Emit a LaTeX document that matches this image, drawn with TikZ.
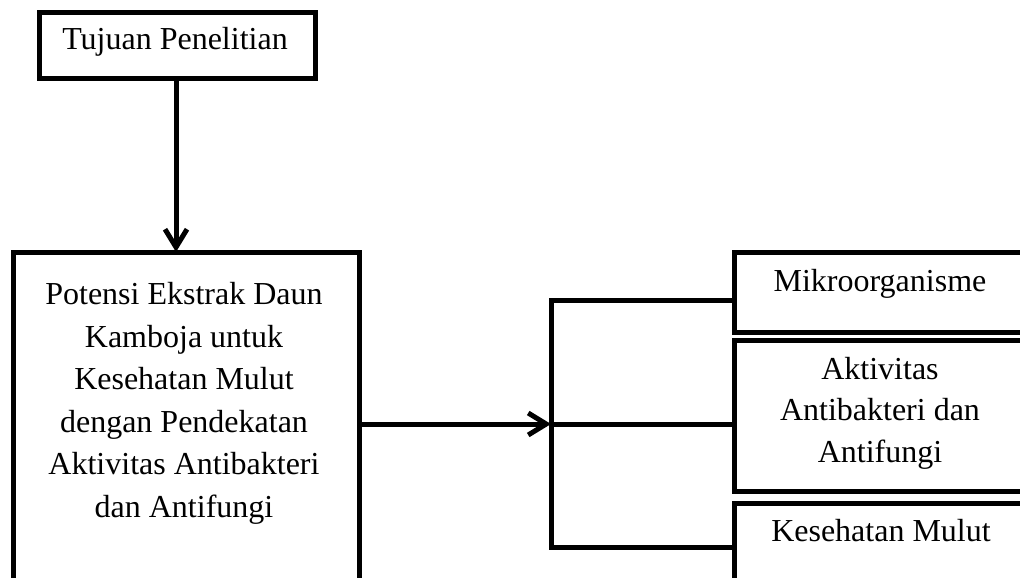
\documentclass[tikz,border=0pt]{standalone}
\usepackage{fontspec}
\setmainfont{Liberation Serif}
\usetikzlibrary{arrows.meta}
\begin{document}
\begin{tikzpicture}[x=1pt,y=-1pt,
  box/.style={draw, line width=5pt, inner sep=0pt, anchor=north west, line join=miter},
  lbl/.style={font=\fontsize{32}{42.6}\selectfont, inner sep=0pt, align=center},
  conn/.style={line width=5pt, line join=miter},
  arr/.style={conn, -{Straight Barb[length=18pt,width=22pt]}}]
\useasboundingbox (0,0) rectangle (1020,578);
\clip (0,0) rectangle (1020,578);
% boxes
\node[box, minimum width=276pt, minimum height=66pt] (tujuan) at (37,10) {};
\node[box, minimum width=346pt, minimum height=400pt] (main) at (11,250) {};
\node[box, minimum width=400pt, minimum height=80pt] (mikro) at (732,250) {};
\node[box, minimum width=400pt, minimum height=151pt] (akt) at (732,338) {};
\node[box, minimum width=400pt, minimum height=200pt] (kes) at (732,501) {};
% texts
\node[lbl, anchor=base] (tujuanT) at (175,50) {Tujuan Penelitian};
\node[lbl, anchor=north] (mainT) at (184,282) {Potensi Ekstrak Daun\\Kamboja untuk\\Kesehatan Mulut\\dengan Pendekatan\\Aktivitas Antibakteri\\dan Antifungi};
\node[lbl, anchor=base] (mikroT) at (880,291) {Mikroorganisme};
\node[lbl, anchor=north, font=\fontsize{32}{41.5}\selectfont] (aktT) at (880,357) {Aktivitas\\Antibakteri dan\\Antifungi};
\node[lbl, anchor=base] (kesT) at (881,541) {Kesehatan Mulut};
% connectors
\coordinate (ax) at (176,0);
\coordinate (br) at (551,424);
\coordinate (bt) at (551,300);
\coordinate (bb) at (551,547);
\draw[arr] (tujuan.south -| ax) -- ([yshift=-2pt]main.north -| ax);
\draw[arr] (main.east |- br) -- (br);
\draw[conn] (mikro.west |- bt) -- (bt) -- (bb) -- (kes.west |- bb);
\draw[conn] (br) -- (akt.west |- br);
\end{tikzpicture}
\end{document}
